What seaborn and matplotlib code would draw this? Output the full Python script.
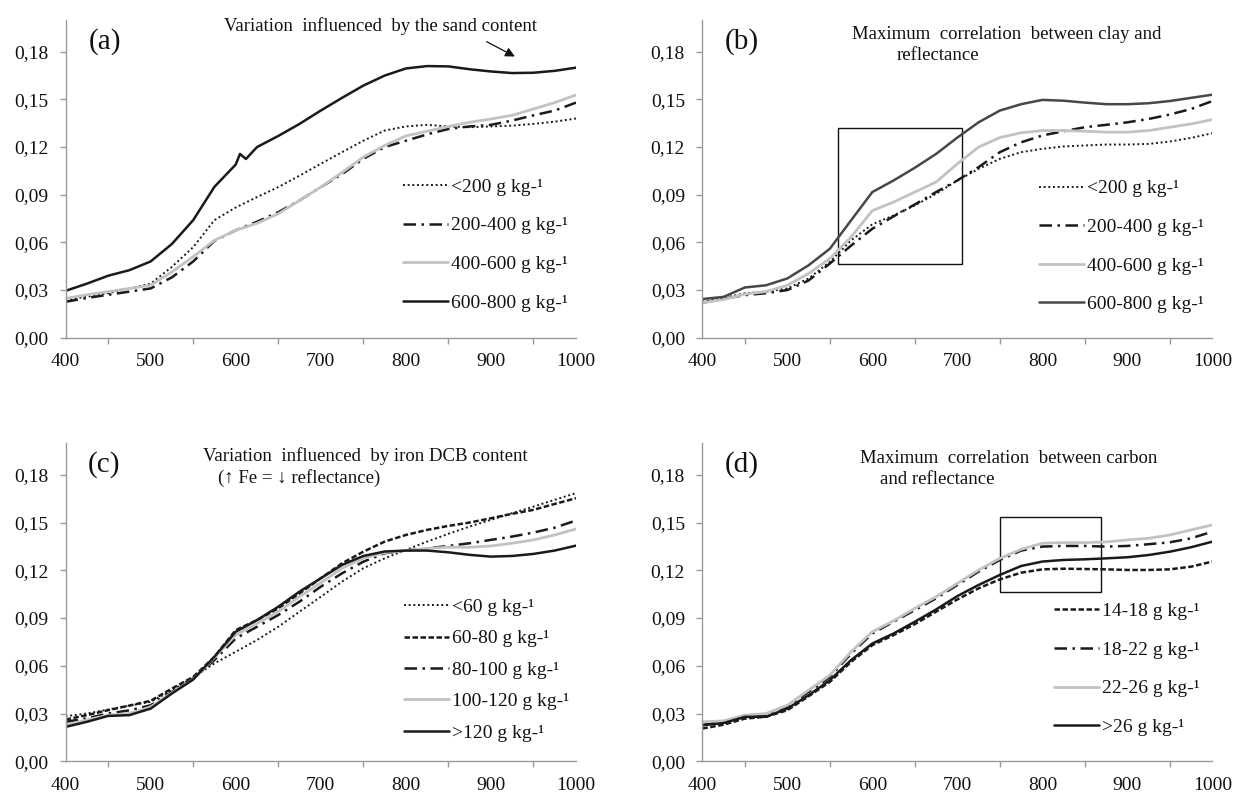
import matplotlib
matplotlib.use("Agg")
import matplotlib.pyplot as plt
import seaborn as sns
from matplotlib.patches import Rectangle

# wavelength grid (nm), read every 25 nm
wl = [400, 425, 450, 475, 500, 525, 550, 575, 600, 625, 650, 675, 700,
      725, 750, 775, 800, 825, 850, 875, 900, 925, 950, 975, 1000]
# (a) 600-800 curve has a small spike just after 600 nm
wl_spike = [400, 425, 450, 475, 500, 525, 550, 575, 600, 605, 612, 625, 650, 675, 700,
            725, 750, 775, 800, 825, 850, 875, 900, 925, 950, 975, 1000]

# (a) sand content
sand_labels = ["<200 g kg-¹", "200-400 g kg-¹", "400-600 g kg-¹", "600-800 g kg-¹"]
sand_lt200 = [0.0237, 0.0258, 0.028, 0.031, 0.034, 0.0446, 0.057, 0.074, 0.082, 0.0885, 0.0948,
              0.102, 0.1095, 0.1168, 0.124, 0.1304, 0.133, 0.134, 0.133, 0.1325, 0.133, 0.1335,
              0.1346, 0.136, 0.138]
sand_200_400 = [0.0226, 0.025, 0.027, 0.029, 0.031, 0.038, 0.048, 0.061, 0.0676, 0.073, 0.079,
                0.0864, 0.0948, 0.103, 0.1126, 0.120, 0.124, 0.128, 0.1314, 0.133, 0.134, 0.1367,
                0.140, 0.143, 0.148]
sand_400_600 = [0.0247, 0.027, 0.029, 0.031, 0.033, 0.0414, 0.051, 0.0613, 0.0676, 0.072, 0.078,
                0.0864, 0.0948, 0.104, 0.1137, 0.121, 0.127, 0.130, 0.133, 0.1356, 0.1377, 0.140,
                0.144, 0.148, 0.1528]
sand_600_800 = [0.0295, 0.034, 0.039, 0.0425, 0.048, 0.059, 0.074, 0.095, 0.109, 0.1157, 0.1125,
                0.120, 0.127, 0.1346, 0.143, 0.151, 0.1587, 0.165, 0.1695, 0.171, 0.1708, 0.169,
                0.1676, 0.1666, 0.1668, 0.168, 0.170]

# (b) clay content
clay_labels = ["<200 g kg-¹", "200-400 g kg-¹", "400-600 g kg-¹", "600-800 g kg-¹"]
clay_lt200 = [0.0226, 0.025, 0.028, 0.029, 0.031, 0.0373, 0.0477, 0.0613, 0.0714, 0.077, 0.0833,
              0.0906, 0.099, 0.1063, 0.1126, 0.1168, 0.1189, 0.1204, 0.121, 0.1216, 0.1216, 0.122,
              0.1235, 0.1258, 0.1287]
clay_200_400 = [0.022, 0.0245, 0.0268, 0.028, 0.030, 0.036, 0.0467, 0.058, 0.0686, 0.0764, 0.0839,
                0.0917, 0.099, 0.1074, 0.1168, 0.123, 0.1273, 0.130, 0.1325, 0.134, 0.1356, 0.1377,
                0.1405, 0.144, 0.149]
clay_400_600 = [0.022, 0.024, 0.0274, 0.029, 0.033, 0.0404, 0.0498, 0.0634, 0.080, 0.0854, 0.0917,
                0.098, 0.1095, 0.120, 0.126, 0.129, 0.1304, 0.1304, 0.130, 0.1294, 0.1294, 0.1304,
                0.1325, 0.1346, 0.1373]
clay_600_800 = [0.0243, 0.0257, 0.0316, 0.033, 0.0373, 0.0456, 0.056, 0.0739, 0.0917, 0.099, 0.107,
                0.1157, 0.126, 0.1356, 0.143, 0.147, 0.1497, 0.1492, 0.148, 0.147, 0.147, 0.1476,
                0.149, 0.151, 0.153]

# (c) iron DCB content
iron_labels = ["<60 g kg-¹", "60-80 g kg-¹", "80-100 g kg-¹", "100-120 g kg-¹", ">120 g kg-¹"]
iron_lt60 = [0.0283, 0.030, 0.0325, 0.035, 0.0373, 0.0447, 0.0527, 0.0615, 0.0688, 0.0762, 0.0845,
             0.094, 0.1034, 0.1129, 0.1213, 0.1275, 0.1328, 0.138, 0.1429, 0.1475, 0.1517, 0.1559,
             0.160, 0.1643, 0.1685]
iron_60_80 = [0.0262, 0.029, 0.0321, 0.035, 0.038, 0.0457, 0.053, 0.0657, 0.0824, 0.0887, 0.0961,
              0.1055, 0.115, 0.1244, 0.1317, 0.138, 0.1422, 0.1454, 0.1479, 0.150, 0.1527, 0.1555,
              0.158, 0.1617, 0.1653]
iron_80_100 = [0.0248, 0.027, 0.030, 0.032, 0.0352, 0.0436, 0.052, 0.0636, 0.0772, 0.0845, 0.0919,
               0.1003, 0.1097, 0.1181, 0.1254, 0.1307, 0.1324, 0.1338, 0.1353, 0.137, 0.1391, 0.1412,
               0.1437, 0.1468, 0.1513]
iron_100_120 = [0.0227, 0.026, 0.029, 0.030, 0.0342, 0.043, 0.0514, 0.0652, 0.0793, 0.0866, 0.094,
                0.1034, 0.1122, 0.1213, 0.1275, 0.1311, 0.1324, 0.1338, 0.1345, 0.1345, 0.1353,
                0.137, 0.1391, 0.1422, 0.146]
iron_gt120 = [0.0216, 0.0248, 0.0285, 0.029, 0.0331, 0.0426, 0.0514, 0.0657, 0.0814, 0.0887, 0.0971,
              0.1066, 0.115, 0.1234, 0.129, 0.1318, 0.1324, 0.1324, 0.1313, 0.1297, 0.1286, 0.129,
              0.1303, 0.1324, 0.1355]

# (d) carbon content
carbon_labels = ["14-18 g kg-¹", "18-22 g kg-¹", "22-26 g kg-¹", ">26 g kg-¹"]
carbon_14_18 = [0.0206, 0.023, 0.0268, 0.028, 0.0321, 0.0409, 0.0499, 0.0625, 0.073, 0.0793, 0.0862,
                0.094, 0.1017, 0.1087, 0.1143, 0.1185, 0.1206, 0.121, 0.1208, 0.1206, 0.1202, 0.1202,
                0.1206, 0.1223, 0.1255]
carbon_18_22 = [0.0227, 0.025, 0.0279, 0.029, 0.0342, 0.0436, 0.053, 0.0677, 0.0803, 0.0877, 0.095,
                0.1024, 0.1108, 0.1192, 0.1265, 0.1324, 0.1349, 0.1353, 0.1353, 0.1349, 0.1353,
                0.1364, 0.1376, 0.1401, 0.1443]
carbon_22_26 = [0.0248, 0.0254, 0.029, 0.030, 0.0352, 0.0447, 0.0541, 0.0688, 0.0814, 0.0883, 0.0961,
                0.1034, 0.1118, 0.1202, 0.1275, 0.1332, 0.137, 0.1374, 0.1374, 0.1378, 0.1391, 0.1401,
                0.1422, 0.1454, 0.1485]
carbon_gt26 = [0.0227, 0.024, 0.0279, 0.028, 0.0331, 0.0415, 0.051, 0.0636, 0.074, 0.0803, 0.0877,
               0.0954, 0.1038, 0.1108, 0.1171, 0.1227, 0.1255, 0.1265, 0.1269, 0.1275, 0.1282, 0.1296,
               0.1317, 0.1345, 0.138]

yticks = [0.0, 0.03, 0.06, 0.09, 0.12, 0.15, 0.18]
ytick_labels = ["0,00", "0,03", "0,06", "0,09", "0,12", "0,15", "0,18"]
xticks = [400, 500, 600, 700, 800, 900, 1000]
xticks_minor = [450, 550, 650, 750, 850, 950]

# line styles
BLACK = "#1a1a1a"
LGRAY = "#c2c2c2"
DGRAY = "#474747"
DOT = (0, (1, 1.4))
DASH = (0, (2.2, 1.0))
DASHDOT = (0, (5, 2.2, 1, 2.2))
SOLID = "-"

sns.set_style("white")
plt.rcParams["font.family"] = ["Liberation Serif", "DejaVu Serif"]
plt.rcParams["axes.unicode_minus"] = False

fig = plt.figure(figsize=(12.35, 7.94), dpi=100)
ax_a = fig.add_axes([0.0531, 0.5747, 0.4133, 0.4001])
ax_b = fig.add_axes([0.5687, 0.5747, 0.4130, 0.4001])
ax_c = fig.add_axes([0.0531, 0.0412, 0.4133, 0.4009])
ax_d = fig.add_axes([0.5687, 0.0412, 0.4130, 0.4009])


def style_axis(ax):
    ax.set_xlim(400, 1000)
    ax.set_ylim(0, 0.2)
    ax.set_yticks(yticks)
    ax.set_yticklabels(ytick_labels)
    ax.set_xticks(xticks)
    ax.set_xticks(xticks_minor, minor=True)
    ax.set_xticklabels([str(v) for v in xticks])
    for s in ["top", "right"]:
        ax.spines[s].set_visible(False)
    for s in ["left", "bottom"]:
        ax.spines[s].set_color("#9a9a9a")
        ax.spines[s].set_linewidth(1.0)
    ax.tick_params(axis="y", which="major", direction="out", length=4, width=1.0,
                   color="#9a9a9a", pad=8.5, labelsize=14, labelcolor="#111111", left=True)
    ax.tick_params(axis="x", which="major", length=0, pad=11, labelsize=14,
                   labelcolor="#111111", bottom=True)
    ax.tick_params(axis="x", which="minor", direction="out", length=4, width=1.0,
                   color="#9a9a9a", bottom=True)
    ax.set_xlabel("")
    ax.set_ylabel("")


def draw(ax, xs, ys, color, ls, lw, label):
    sns.lineplot(x=xs, y=ys, ax=ax, color=color, linestyle=ls, linewidth=lw,
                 label=label, errorbar=None, legend=False)


def add_legend(ax, x, y, spacing):
    leg = ax.legend(loc="upper left", bbox_to_anchor=(x, y), bbox_transform=ax.transData,
                    frameon=False, fontsize=14, handlelength=2.3, handletextpad=0.15,
                    labelspacing=spacing, borderpad=0, borderaxespad=0)
    for t in leg.get_texts():
        t.set_color("#111111")


# (a) sand
draw(ax_a, wl, sand_lt200, BLACK, DOT, 1.4, sand_labels[0])
draw(ax_a, wl, sand_200_400, BLACK, DASHDOT, 1.8, sand_labels[1])
draw(ax_a, wl, sand_400_600, LGRAY, SOLID, 2.0, sand_labels[2])
draw(ax_a, wl_spike, sand_600_800, BLACK, SOLID, 1.8, sand_labels[3])
style_axis(ax_a)
add_legend(ax_a, 797, 0.1004, 1.08)
ax_a.text(446, 0.1865, "(a)", fontsize=21, ha="center", va="center", color="#111111")
ax_a.text(770, 0.1963, "Variation  influenced  by the sand content", fontsize=13.5,
          ha="center", va="center", color="#111111")
ax_a.annotate("", xy=(931, 0.1762), xytext=(892, 0.1872),
              arrowprops=dict(arrowstyle="-|>", color="#111111", lw=0.9,
                              mutation_scale=14))

# (b) clay
draw(ax_b, wl, clay_lt200, BLACK, DOT, 1.4, clay_labels[0])
draw(ax_b, wl, clay_200_400, BLACK, DASHDOT, 1.8, clay_labels[1])
draw(ax_b, wl, clay_400_600, LGRAY, SOLID, 2.0, clay_labels[2])
draw(ax_b, wl, clay_600_800, DGRAY, SOLID, 1.8, clay_labels[3])
style_axis(ax_b)
add_legend(ax_b, 796, 0.0994, 1.08)
ax_b.add_patch(Rectangle((559, 0.0467), 147, 0.0854, fill=False, ec="#111111", lw=1.0))
ax_b.text(446, 0.1865, "(b)", fontsize=21, ha="center", va="center", color="#111111")
ax_b.text(758, 0.191, "Maximum  correlation  between clay and", fontsize=13.5,
          ha="center", va="center", color="#111111")
ax_b.text(629, 0.1775, "reflectance", fontsize=13.5, ha="left", va="center", color="#111111")

# (c) iron
draw(ax_c, wl, iron_lt60, BLACK, DOT, 1.4, iron_labels[0])
draw(ax_c, wl, iron_60_80, BLACK, DASH, 1.8, iron_labels[1])
draw(ax_c, wl, iron_80_100, BLACK, DASHDOT, 1.8, iron_labels[2])
draw(ax_c, wl, iron_100_120, LGRAY, SOLID, 2.0, iron_labels[3])
draw(ax_c, wl, iron_gt120, BLACK, SOLID, 1.8, iron_labels[4])
style_axis(ax_c)
add_legend(ax_c, 798, 0.1024, 0.71)
ax_c.text(445, 0.1863, "(c)", fontsize=21, ha="center", va="center", color="#111111")
ax_c.text(752, 0.192, "Variation  influenced  by iron DCB content", fontsize=13.5,
          ha="center", va="center", color="#111111")
ax_c.text(579, 0.178, "(↑ Fe = ↓ reflectance)", fontsize=13.5, ha="left", va="center",
          color="#111111")

# (d) carbon
draw(ax_d, wl, carbon_14_18, BLACK, DASH, 1.8, carbon_labels[0])
draw(ax_d, wl, carbon_18_22, BLACK, DASHDOT, 1.8, carbon_labels[1])
draw(ax_d, wl, carbon_22_26, LGRAY, SOLID, 2.0, carbon_labels[2])
draw(ax_d, wl, carbon_gt26, BLACK, SOLID, 1.8, carbon_labels[3])
style_axis(ax_d)
add_legend(ax_d, 814, 0.0997, 1.08)
ax_d.add_patch(Rectangle((750, 0.1066), 119.5, 0.0468, fill=False, ec="#111111", lw=1.0))
ax_d.text(446, 0.1863, "(d)", fontsize=21, ha="center", va="center", color="#111111")
ax_d.text(760, 0.1905, "Maximum  correlation  between carbon", fontsize=13.5,
          ha="center", va="center", color="#111111")
ax_d.text(609, 0.1769, "and reflectance", fontsize=13.5, ha="left", va="center",
          color="#111111")

fig.savefig("out.png", dpi=100)
plt.close(fig)
